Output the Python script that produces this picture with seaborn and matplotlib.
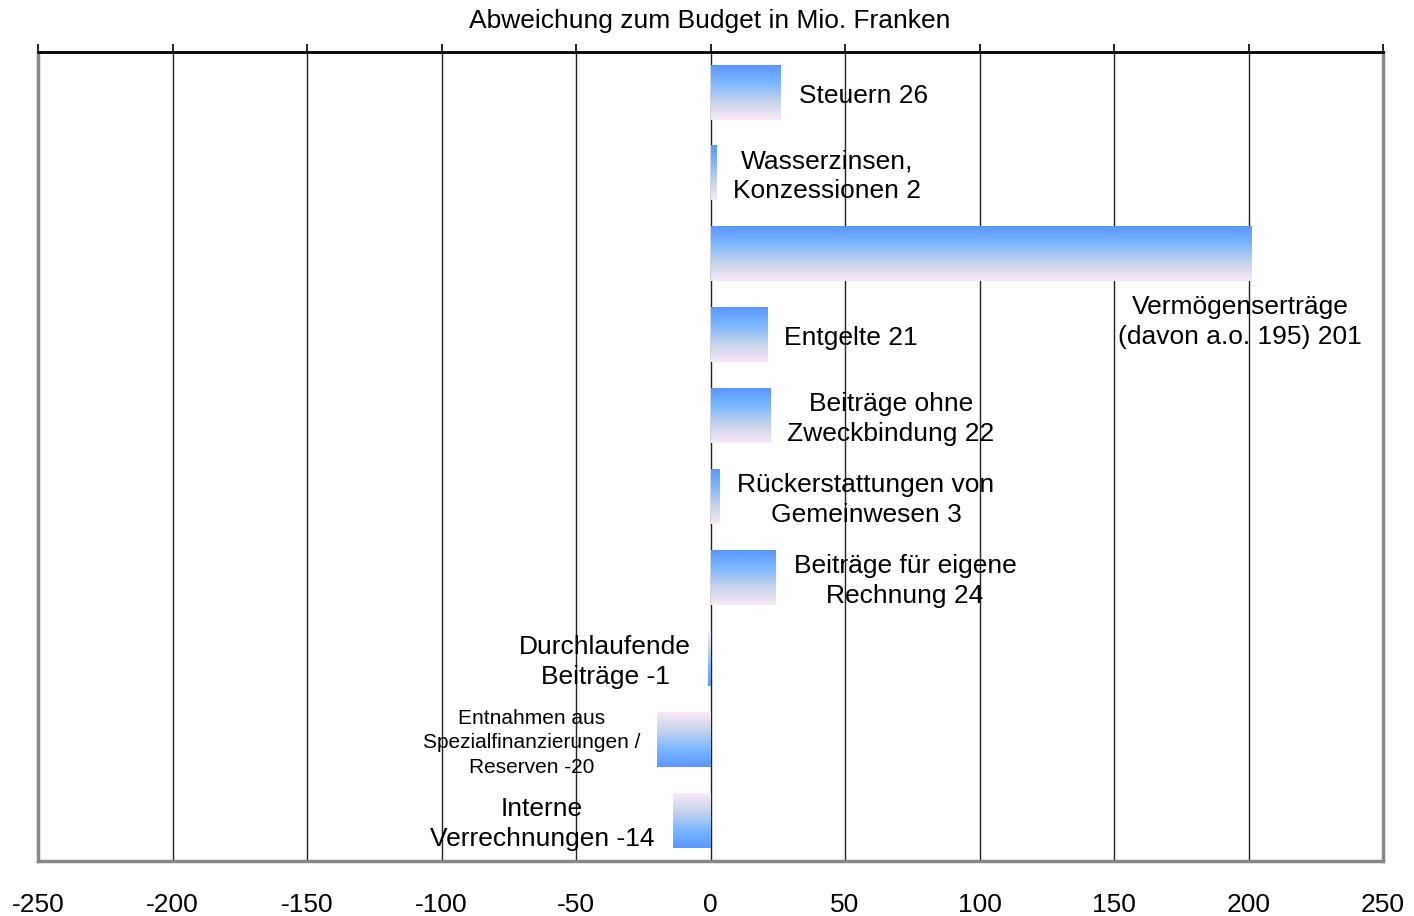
import numpy as np
import pandas as pd
import matplotlib
matplotlib.use("Agg")
import matplotlib.pyplot as plt
import seaborn as sns
from matplotlib.colors import LinearSegmentedColormap

# Daten
kategorien = ['Steuern', 'Wasserzinsen,\nKonzessionen', 'Vermögenserträge\n(davon a.o. 195)',
              'Entgelte', 'Beiträge ohne\nZweckbindung', 'Rückerstattungen von\nGemeinwesen',
              'Beiträge für eigene\nRechnung', 'Durchlaufende\nBeiträge',
              'Entnahmen aus\nSpezialfinanzierungen /\nReserven', 'Interne\nVerrechnungen']
werte = [26, 2, 201, 21, 22, 3, 24, -1, -20, -14]
x_ticks = [-250, -200, -150, -100, -50, 0, 50, 100, 150, 200, 250]

# Position der Beschriftungen (x, y in Datenkoordinaten), Schriftgrösse
label_pos = [(57, 0.04), (43.3, 1.04), (196.8, 2.84), (52.2, 3.04), (67.1, 4.04), (57.8, 5.04),
             (72.3, 6.04), (-39.2, 7.04), (-66.4, 8.04), (-62.6, 9.04)]
label_size = [19, 19, 19, 19, 19, 19, 19, 19, 15, 19]

df = pd.DataFrame({'kat': [str(i) for i in range(len(werte))], 'wert': werte})

sns.set_style('white')
plt.rcParams['font.family'] = ['Liberation Sans', 'DejaVu Sans']
plt.rcParams['text.color'] = 'black'
plt.rcParams['xtick.color'] = 'black'

fig = plt.figure(figsize=(14.14, 9.16), dpi=100)
ax = fig.add_axes([38 / 1414, 1 - 861 / 916, (1383 - 38) / 1414, (861 - 52) / 916])

sns.barplot(data=df, x='wert', y='kat', orient='h', width=0.67, ax=ax,
            color='white', edgecolor='none', zorder=2)

# vertikaler Farbverlauf: blau oben (positiv) bzw. unten (negativ)
cmap = LinearSegmentedColormap.from_list('verlauf', ['#5a96ff', '#7cb8ff', '#c6d3ea', '#fae8f7'])
grad = np.linspace(0, 1, 256).reshape(-1, 1)
for p, v in zip(ax.patches, werte):
    x0 = min(p.get_x(), p.get_x() + p.get_width())
    x1 = max(p.get_x(), p.get_x() + p.get_width())
    y0 = p.get_y()
    h = p.get_height()
    g = grad if v >= 0 else grad[::-1]
    ax.imshow(g, cmap=cmap, aspect='auto', origin='upper',
              extent=(x0, x1, y0 + h, y0), zorder=3, interpolation='bilinear')
    p.set_visible(False)

for kat, v, (lx, ly), fs in zip(kategorien, werte, label_pos, label_size):
    ax.text(lx, ly, f'{kat} {v}', ha='center', va='center', ma='center',
            fontsize=fs, linespacing=1.35 if fs < 19 else 1.3, color='black', zorder=5)

ax.set_xlim(-250, 250)
ax.set_ylim(9.5, -0.5)
ax.set_xticks(x_ticks)
ax.set_xticklabels([str(t) for t in x_ticks], fontsize=19)
ax.set_yticks([])
ax.set_xlabel('')
ax.set_ylabel('')
ax.grid(axis='x', color='#222222', linewidth=1.0, zorder=1)
ax.set_axisbelow(True)
ax.tick_params(axis='x', top=True, bottom=False, labeltop=False, labelbottom=True,
               direction='out', length=6, width=1.2, color='black', labelcolor='black', pad=17)

for s in ['left', 'right', 'bottom']:
    ax.spines[s].set_color('#888888')
    ax.spines[s].set_linewidth(2.5)
ax.spines['top'].set_color('black')
ax.spines['top'].set_linewidth(2)

fig.text(710 / 1414, 1 - 21 / 916, 'Abweichung zum Budget in Mio. Franken',
         ha='center', va='center', fontsize=19, color='black')

fig.savefig('out.png', dpi=100)
